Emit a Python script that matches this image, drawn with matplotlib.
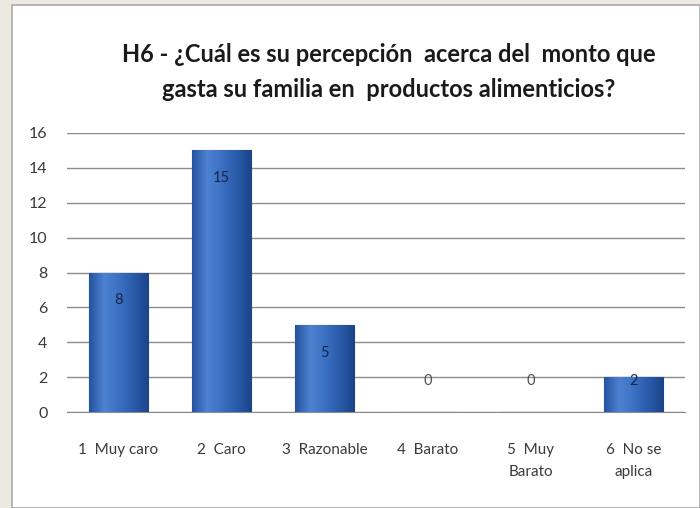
import numpy as np
import matplotlib.pyplot as plt
from matplotlib.patches import Rectangle
from matplotlib.colors import LinearSegmentedColormap

# Datos
categorias = ['1  Muy caro', '2  Caro', '3  Razonable', '4  Barato', '5  Muy\nBarato', '6  No se\naplica']
valores = [8, 15, 5, 0, 0, 2]
titulo = 'H6 - ¿Cuál es su percepción  acerca del  monto que\ngasta su familia en  productos alimenticios?'

plt.rcParams['font.family'] = ['Lato', 'DejaVu Sans']

fig = plt.figure(figsize=(7, 5.08), dpi=100)
fig.patch.set_facecolor('#ECEAE0')

# Marco blanco del grafico
fondo = Rectangle((12/700, 0), 1 - 12/700, 1 - 5/508, transform=fig.transFigure,
                  facecolor='white', edgecolor='#A8A8A8', linewidth=1.2, zorder=-10)
fig.patches.append(fondo)

ax = fig.add_axes([67/700, 96/508, 618/700, 279/508])
ax.set_facecolor('none')

x = np.arange(len(categorias))
barras = ax.bar(x, valores, width=0.58, color='#3566B8', edgecolor='#1E4A8E', linewidth=0.8, zorder=3)

# Degradado horizontal para el efecto 3D
cmap = LinearSegmentedColormap.from_list('azul', ['#2553A0', '#4D82D2', '#3C70C2', '#2A5BAA', '#1C4488'])
grad = np.linspace(0, 1, 64).reshape(1, -1)
for b in barras:
    if b.get_height() <= 0:
        continue
    im = ax.imshow(grad, cmap=cmap, aspect='auto', zorder=3.5,
                   extent=[b.get_x(), b.get_x() + b.get_width(), 0, b.get_height()])
    im.set_clip_path(b)

for xi, v in zip(x, valores):
    ax.text(xi, max(v - 1.6, 1.8), str(v), ha='center', va='center',
            fontsize=10.5, color='#16254A' if v > 0 else '#505050', zorder=5)

ax.set_ylim(0, 16)
ax.set_xlim(-0.5, len(categorias) - 0.5)
ax.set_yticks(range(0, 17, 2))
ax.yaxis.grid(True, color='#8C8C8C', linewidth=1.0, zorder=0)
ax.set_axisbelow(True)
for s in ['top', 'right', 'left']:
    ax.spines[s].set_visible(False)
ax.spines['bottom'].set_color('#8C8C8C')
ax.tick_params(axis='y', length=0, pad=14, labelsize=11.5, labelcolor='#3A3A3A')
ax.set_xticks(x)
ax.set_xticklabels(categorias)
ax.tick_params(axis='x', length=0, pad=22, labelsize=11, labelcolor='#3A3A3A')
for lbl in ax.get_xticklabels():
    lbl.set_linespacing(1.75)

fig.text(389/700, 1 - 72/508, titulo, ha='center', va='center', fontsize=17,
         fontweight='bold', color='#1A1A1A', linespacing=1.6)

fig.savefig('out.png', dpi=100, facecolor=fig.get_facecolor())
